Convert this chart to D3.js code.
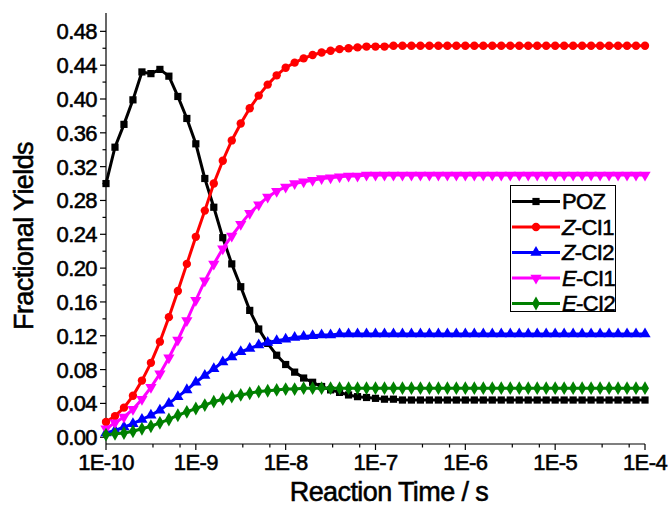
<!DOCTYPE html>
<html><head><meta charset="utf-8">
<script src="https://cdn.jsdelivr.net/npm/d3@7"></script>
<style>
body{margin:0;background:#fff;}
text{font-family:"Liberation Sans",Arial,sans-serif;fill:#000;stroke:#000;stroke-width:0.55px;letter-spacing:-0.6px;}
</style></head>
<body><svg id="c" width="672" height="510"></svg>
<script>
// log10 of reaction time (s)
const logTime = [-10.0,-9.9,-9.8,-9.7,-9.6,-9.5,-9.4,-9.3,-9.2,-9.1,
  -9.0,-8.9,-8.8,-8.7,-8.6,-8.5,-8.4,-8.3,-8.2,-8.1,
  -8.0,-7.9,-7.8,-7.7,-7.6,-7.5,-7.4,-7.3,-7.2,-7.1,
  -7.0,-6.9,-6.8,-6.7,-6.6,-6.5,-6.4,-6.3,-6.2,-6.1,
  -6.0,-5.9,-5.8,-5.7,-5.6,-5.5,-5.4,-5.3,-5.2,-5.1,
  -5.0,-4.9,-4.8,-4.7,-4.6,-4.5,-4.4,-4.3,-4.2,-4.1,-4.0];

const POZ = [0.300,0.343,0.370,0.399,0.432,0.430,0.435,0.427,0.403,0.377,
  0.347,0.306,0.272,0.236,0.205,0.178,0.150,0.128,0.111,0.097,
  0.086,0.077,0.070,0.065,0.060,0.056,0.053,0.050,0.048,0.047,
  0.046,0.045,0.045,0.044,0.044,0.044,0.044,0.044,0.044,0.044,
  0.044,0.044,0.044,0.044,0.044,0.044,0.044,0.044,0.044,0.044,
  0.044,0.044,0.044,0.044,0.044,0.044,0.044,0.044,0.044,0.044,0.044];
const ZCI1 = [0.018,0.025,0.035,0.049,0.067,0.088,0.113,0.142,0.173,0.205,
  0.237,0.268,0.300,0.327,0.351,0.371,0.389,0.404,0.417,0.428,
  0.437,0.443,0.448,0.452,0.455,0.457,0.459,0.460,0.461,0.462,
  0.462,0.462,0.463,0.463,0.463,0.463,0.463,0.463,0.463,0.463,
  0.463,0.463,0.463,0.463,0.463,0.463,0.463,0.463,0.463,0.463,
  0.463,0.463,0.463,0.463,0.463,0.463,0.463,0.463,0.463,0.463,0.463];
const ZCI2 = [0.005,0.008,0.012,0.016,0.021,0.026,0.032,0.040,0.048,0.056,
  0.065,0.073,0.081,0.089,0.095,0.101,0.105,0.109,0.112,0.114,
  0.116,0.118,0.119,0.120,0.121,0.121,0.122,0.122,0.122,0.122,
  0.122,0.122,0.122,0.122,0.122,0.122,0.122,0.122,0.122,0.122,
  0.122,0.122,0.122,0.122,0.122,0.122,0.122,0.122,0.122,0.122,
  0.122,0.122,0.122,0.122,0.122,0.122,0.122,0.122,0.122,0.122,0.122];
const ECI1 = [0.010,0.017,0.024,0.033,0.045,0.059,0.075,0.094,0.115,0.138,
  0.162,0.185,0.205,0.223,0.238,0.252,0.265,0.275,0.284,0.291,
  0.296,0.300,0.302,0.304,0.306,0.307,0.308,0.309,0.309,0.310,
  0.310,0.310,0.310,0.310,0.310,0.310,0.310,0.310,0.310,0.310,
  0.310,0.310,0.310,0.310,0.310,0.310,0.310,0.310,0.310,0.310,
  0.310,0.310,0.310,0.310,0.310,0.310,0.310,0.310,0.310,0.310,0.310];
const ECI2 = [0.003,0.004,0.005,0.007,0.010,0.013,0.017,0.021,0.026,0.030,
  0.034,0.038,0.042,0.045,0.048,0.050,0.052,0.054,0.055,0.056,
  0.057,0.057,0.058,0.058,0.058,0.058,0.058,0.058,0.058,0.058,
  0.058,0.058,0.058,0.058,0.058,0.058,0.058,0.058,0.058,0.058,
  0.058,0.058,0.058,0.058,0.058,0.058,0.058,0.058,0.058,0.058,
  0.058,0.058,0.058,0.058,0.058,0.058,0.058,0.058,0.058,0.058,0.058];

const seriesNames = ["POZ","Z-CI1","Z-CI2","E-CI1","E-CI2"];
const xTickLabels = ["1E-10","1E-9","1E-8","1E-7","1E-6","1E-5","1E-4"];
const yTickValues = [0.00,0.04,0.08,0.12,0.16,0.20,0.24,0.28,0.32,0.36,0.40,0.44,0.48];

const series = [
  {name:seriesNames[0], values:POZ,  color:"#000000", sym:d3.symbolSquare,   size:52, rot:0},
  {name:seriesNames[1], values:ZCI1, color:"#ff0000", sym:d3.symbolCircle,   size:55, rot:0},
  {name:seriesNames[2], values:ZCI2, color:"#0000ff", sym:d3.symbolTriangle, size:55, rot:0},
  {name:seriesNames[3], values:ECI1, color:"#ff00ff", sym:d3.symbolTriangle, size:55, rot:180},
  {name:seriesNames[4], values:ECI2, color:"#008000", sym:d3.symbolDiamond,  size:55, rot:0}
];

const svg = d3.select("#c");
const x = d3.scaleLog().domain([1e-10,1e-4]).range([106,645]);
const y = d3.scaleLinear().domain([-0.008,0.5017]).range([444,13]);

// Axes
const xMajor = xTickLabels.map(s => +s);
const xMinor = [];
xMajor.slice(0,-1).forEach(m => { xMinor.push(m*10/3, m*20/3); });

const ax = svg.append("g").attr("stroke","#000").attr("stroke-width",1.2);
ax.append("line").attr("x1",x(1e-10)).attr("x2",x(1e-4)).attr("y1",444).attr("y2",444);
ax.append("line").attr("x1",106).attr("x2",106).attr("y1",13).attr("y2",444);
xMajor.forEach(v => ax.append("line").attr("x1",x(v)).attr("x2",x(v)).attr("y1",444).attr("y2",450));
xMinor.forEach(v => ax.append("line").attr("x1",x(v)).attr("x2",x(v)).attr("y1",444).attr("y2",447.5));
yTickValues.forEach(v => ax.append("line").attr("x1",100).attr("x2",106).attr("y1",y(v)).attr("y2",y(v)));
yTickValues.slice(0,-1).forEach(v => ax.append("line").attr("x1",102.5).attr("x2",106).attr("y1",y(v+0.02)).attr("y2",y(v+0.02)));

svg.append("g").selectAll("text").data(xTickLabels).join("text")
  .attr("x",d => x(+d)).attr("y",470).attr("text-anchor","middle")
  .attr("font-size",22).text(d => d);
svg.append("g").selectAll("text").data(yTickValues).join("text")
  .attr("x",97).attr("y",d => y(d)).attr("dy","0.36em").attr("text-anchor","end")
  .attr("font-size",22).text(d => d3.format(".2f")(d));

svg.append("text").attr("x",389).attr("y",501).attr("text-anchor","middle")
  .attr("font-size",27).text("Reaction Time / s");
svg.append("text").attr("transform","translate(33,236) rotate(-90)").attr("text-anchor","middle")
  .attr("font-size",27).text("Fractional Yields");

// Series
const line = d3.line().x((d,i) => x(Math.pow(10,logTime[i]))).y(d => y(d));
series.forEach(s => {
  const g = svg.append("g");
  g.append("path").attr("d",line(s.values)).attr("fill","none").attr("stroke",s.color).attr("stroke-width",3);
  g.selectAll("path.m").data(s.values).join("path").attr("class","m")
    .attr("d",d3.symbol(s.sym,s.size)())
    .attr("transform",(d,i) => `translate(${x(Math.pow(10,logTime[i]))},${y(d)}) rotate(${s.rot})`)
    .attr("fill",s.color);
});

// Legend
const lg = svg.append("g");
lg.append("rect").attr("x",510.5).attr("y",185.5).attr("width",105).attr("height",126)
  .attr("fill","#fff").attr("stroke","#000").attr("stroke-width",1);
series.forEach((s,i) => {
  const yy = 201.5 + i*25.5;
  lg.append("line").attr("x1",512).attr("x2",560).attr("y1",yy).attr("y2",yy).attr("stroke",s.color).attr("stroke-width",3);
  lg.append("path").attr("d",d3.symbol(s.sym,s.size)()).attr("transform",`translate(536,${yy}) rotate(${s.rot})`).attr("fill",s.color);
  const t = lg.append("text").attr("x",562).attr("y",yy).attr("dy","0.36em").attr("font-size",22);
  if (i === 0) { t.text(s.name); }
  else {
    t.append("tspan").attr("font-style","italic").text(s.name[0]);
    t.append("tspan").text(s.name.slice(1));
  }
});
</script></body></html>
